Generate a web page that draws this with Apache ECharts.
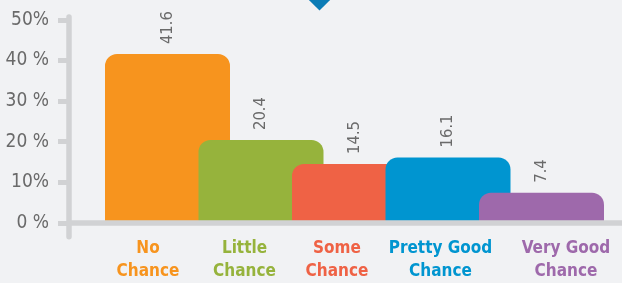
<!DOCTYPE html>
<html>
<head>
<meta charset="utf-8">
<script src="https://cdn.jsdelivr.net/npm/echarts@6/dist/echarts.min.js"></script>
<style>
html,body{margin:0;padding:0;background:#f1f2f4;}
#chart{width:622px;height:283px;}
</style>
</head>
<body>
<div id="chart"></div>
<script>
// ---- data ----
const categories = ['No\nChance', 'Little\nChance', 'Some\nChance', 'Pretty Good\nChance', 'Very Good\nChance'];
const values = [41.6, 20.4, 14.5, 16.1, 7.4];
const yTickLabels = ['0 %', '10%', '20 %', '30 %', '40 %', '50%'];
const barColors = ['#f7941e', '#96b33c', '#ef6245', '#0095d0', '#9e69ab'];

// ---- styling ----
const FONT = "'Liberation Sans Narrow', 'DejaVu Sans Condensed', 'Roboto', sans-serif";
const AXIS_GRAY = '#d1d2d4';
const TEXT_GRAY = '#6a6a6a';
const labelNudge = [-19.5, -16.5, -17.5, -7.5, 24.5];

const chart = echarts.init(document.getElementById('chart'), null, {renderer: 'canvas'});

const option = {
  backgroundColor: '#f1f2f4',
  animation: false,
  grid: [
    {left: 120.75, right: 33.75, top: 20, bottom: 60.2, containLabel: false, outerBoundsMode: 'none'},
    {left: 68.5, right: 0, top: 17, bottom: 46.3, containLabel: false, outerBoundsMode: 'none'}
  ],
  xAxis: [
    {
      type: 'category',
      gridIndex: 0,
      data: categories.map((c, i) => ({
        value: c,
        textStyle: {
          color: barColors[i],
          padding: labelNudge[i] < 0 ? [0, -2 * labelNudge[i], 0, 0] : [0, 0, 0, 2 * labelNudge[i]]
        }
      })),
      axisLine: {show: false},
      axisTick: {show: false},
      axisLabel: {
        interval: 0,
        margin: 14,
        fontFamily: FONT,
        fontWeight: 'bold',
        fontSize: 17,
        lineHeight: 23.5
      }
    },
    {
      type: 'value',
      gridIndex: 1,
      min: 0,
      max: 1,
      z: 10,
      axisLine: {show: true, onZero: true, lineStyle: {color: AXIS_GRAY, width: 5.5}},
      axisTick: {show: false},
      axisLabel: {show: false},
      splitLine: {show: false}
    }
  ],
  yAxis: [
    {
      type: 'value',
      gridIndex: 0,
      min: 0,
      max: 50,
      interval: 10,
      offset: 52.25,
      axisLine: {show: false},
      axisTick: {show: true, length: 10.5, lineStyle: {color: AXIS_GRAY, width: 5}},
      axisLabel: {
        margin: 19.5,
        fontFamily: FONT,
        fontSize: 19,
        color: TEXT_GRAY,
        formatter: v => yTickLabels[Math.round(v / 10)]
      },
      splitLine: {show: false}
    },
    {
      type: 'value',
      gridIndex: 1,
      min: -3.43,
      max: 50.74,
      z: 10,
      axisLine: {show: true, onZero: true, lineStyle: {color: AXIS_GRAY, width: 5.5}},
      axisTick: {show: false},
      axisLabel: {show: false},
      splitLine: {show: false}
    }
  ],
  series: [
    {
      type: 'bar',
      xAxisIndex: 0,
      yAxisIndex: 0,
      barWidth: 125,
      clip: false,
      data: values.map((v, i) => ({
        value: v,
        itemStyle: {color: barColors[i], borderRadius: [12, 12, 0, 0]}
      })),
      label: {
        show: true,
        position: 'top',
        distance: 10,
        rotate: 90,
        align: 'left',
        verticalAlign: 'middle',
        fontFamily: FONT,
        fontSize: 16.5,
        color: TEXT_GRAY,
        formatter: p => p.value.toFixed(1)
      }
    }
  ],
  graphic: [
    {
      type: 'rect',
      x: 319.5,
      y: 0,
      rotation: Math.PI / 4,
      shape: {x: -7.5, y: -7.5, width: 15, height: 15},
      style: {fill: '#0b7cb6'},
      silent: true
    }
  ]
};

chart.setOption(option);
</script>
</body>
</html>
